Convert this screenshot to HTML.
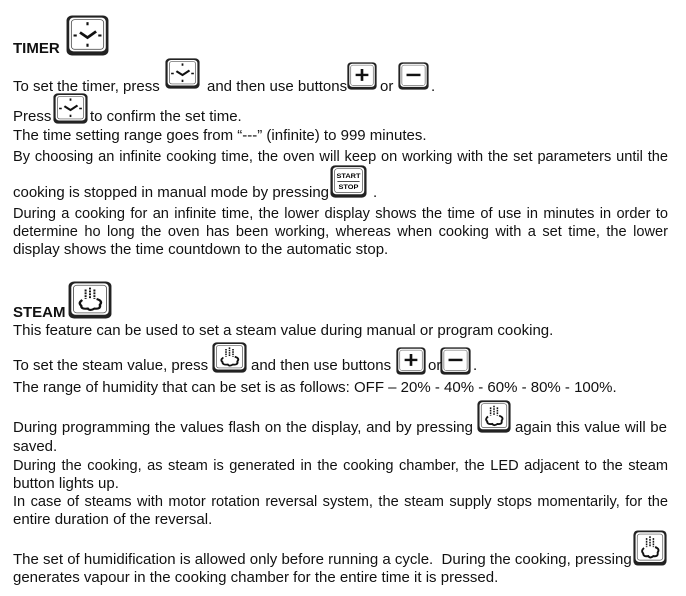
<!DOCTYPE html>
<html><head><meta charset="utf-8"><style>
body{margin:0;background:#fff;width:686px;height:596px;position:relative;overflow:hidden;font-family:"Liberation Sans",Arial,sans-serif;color:#111}
.l{position:absolute;left:13px;width:654px;font-size:15px;line-height:16px;white-space:nowrap}
.j{text-align:justify;text-align-last:justify;white-space:normal;font-size:14.6px;width:655px}
.t{position:absolute;font-size:15px;line-height:16px;white-space:nowrap}
.b{font-weight:bold}
svg{position:absolute}
</style></head><body>
<svg width="0" height="0" style="position:absolute">
<defs>
<g id="frame"><rect x="0.5" y="0.5" width="39" height="39" rx="5" fill="#222"/><rect x="3" y="2.5" width="34" height="33" rx="4" fill="#fff"/><rect x="5" y="4.5" width="30" height="29" rx="3" fill="none" stroke="#555" stroke-width="0.8"/></g>
<g id="clock"><use href="#frame"/><rect x="19" y="7" width="2" height="3" fill="#111"/><rect x="19" y="28" width="2" height="3" fill="#111"/><rect x="7" y="19" width="3" height="2" fill="#111"/><rect x="30" y="19" width="3" height="2" fill="#111"/><path d="M13 17 L20 22 L28 16" stroke="#111" stroke-width="2.6" fill="none" stroke-linejoin="miter"/></g>
<g id="steam"><use href="#frame"/><path d="M13 20 q-4 3 -1 6 q0 4 6 3 q2 3 6 0 q6 1 5 -4 q3 -4 -3 -6" stroke="#111" stroke-width="2.2" fill="none"/><path d="M16 9v10M20 7v12M24 9v10" stroke="#111" stroke-width="1.8" stroke-dasharray="2 1"/></g>
<g id="plus"><use href="#frame"/><path d="M20 10v17M11.5 18.5h17" stroke="#111" stroke-width="3.5"/></g>
<g id="minus"><use href="#frame"/><path d="M11 18.5h18" stroke="#111" stroke-width="3.5"/></g>
</defs></svg>

<div class="t b" style="left:13px;top:41px">TIMER</div>
<svg style="left:66px;top:15px" width="43" height="41" viewBox="0 0 40 40" preserveAspectRatio="none"><use href="#clock"/></svg>

<div class="t" style="left:13px;top:79px">To set the timer, press</div>
<svg style="left:165px;top:58px" width="35" height="31" viewBox="0 0 40 40" preserveAspectRatio="none"><use href="#clock"/></svg>
<div class="t" style="left:207px;top:79px">and then use buttons</div>
<svg style="left:347px;top:62px" width="30" height="28" viewBox="0 0 40 40" preserveAspectRatio="none"><use href="#plus"/></svg>
<div class="t" style="left:380px;top:79px">or</div>
<svg style="left:398px;top:62px" width="31" height="28" viewBox="0 0 40 40" preserveAspectRatio="none"><use href="#minus"/></svg>
<div class="t" style="left:431px;top:79px">.</div>

<div class="t" style="left:13px;top:109px">Press</div>
<svg style="left:53px;top:93px" width="35" height="31" viewBox="0 0 40 40" preserveAspectRatio="none"><use href="#clock"/></svg>
<div class="t" style="left:90px;top:109px">to confirm the set time.</div>

<div class="l" style="top:128px">The time setting range goes from “---” (infinite) to 999 minutes.</div>
<div class="l j" style="top:149px">By choosing an infinite cooking time, the oven will keep on working with the set parameters until the</div>
<div class="t" style="left:13px;top:185px">cooking is stopped in manual mode by pressing</div>
<svg style="left:330px;top:165px" width="37" height="33" viewBox="0 0 40 40" preserveAspectRatio="none"><use href="#frame"/><line x1="8" y1="20" x2="32" y2="20" stroke="#111" stroke-width="1"/><text x="20" y="16" font-size="8" font-weight="bold" text-anchor="middle" font-family="Liberation Sans,sans-serif">START</text><text x="20" y="29" font-size="8" font-weight="bold" text-anchor="middle" font-family="Liberation Sans,sans-serif">STOP</text></svg>
<div class="t" style="left:373px;top:185px">.</div>
<div class="l j" style="top:206px">During a cooking for an infinite time, the lower display shows the time of use in minutes in order to</div>
<div class="l j" style="top:224px">determine ho long the oven has been working, whereas when cooking with a set time, the lower</div>
<div class="l" style="top:242px">display shows the time countdown to the automatic stop.</div>

<div class="t b" style="left:13px;top:305px">STEAM</div>
<svg style="left:68px;top:281px" width="44" height="38" viewBox="0 0 40 40" preserveAspectRatio="none"><use href="#steam"/></svg>
<div class="l" style="top:323px">This feature can be used to set a steam value during manual or program cooking.</div>

<div class="t" style="left:13px;top:358px">To set the steam value, press</div>
<svg style="left:212px;top:342px" width="35" height="31" viewBox="0 0 40 40" preserveAspectRatio="none"><use href="#steam"/></svg>
<div class="t" style="left:251px;top:358px">and then use buttons</div>
<svg style="left:396px;top:347px" width="30" height="28" viewBox="0 0 40 40" preserveAspectRatio="none"><use href="#plus"/></svg>
<div class="t" style="left:428px;top:358px">or</div>
<svg style="left:440px;top:347px" width="31" height="28" viewBox="0 0 40 40" preserveAspectRatio="none"><use href="#minus"/></svg>
<div class="t" style="left:473px;top:358px">.</div>
<div class="l" style="top:380px">The range of humidity that can be set is as follows: OFF – 20% - 40% - 60% - 80% - 100%.</div>

<div class="t" style="left:13px;top:420px;width:460px;text-align:justify;text-align-last:justify;white-space:normal">During programming the values flash on the display, and by pressing</div>
<svg style="left:477px;top:400px" width="34" height="33" viewBox="0 0 40 40" preserveAspectRatio="none"><use href="#steam"/></svg>
<div class="t" style="left:515px;top:420px;width:152px;text-align:justify;text-align-last:justify;white-space:normal">again this value will be</div>
<div class="l" style="top:439px">saved.</div>
<div class="l j" style="top:458px">During the cooking, as steam is generated in the cooking chamber, the LED adjacent to the steam</div>
<div class="l" style="top:476px">button lights up.</div>
<div class="l j" style="top:494px">In case of steams with motor rotation reversal system, the steam supply stops momentarily, for the</div>
<div class="l" style="top:512px">entire duration of the reversal.</div>

<div class="t" style="left:13px;top:552px">The set of humidification is allowed only before running a cycle.&nbsp; During the cooking, pressing</div>
<svg style="left:633px;top:530px" width="34" height="36" viewBox="0 0 40 40" preserveAspectRatio="none"><use href="#steam"/></svg>
<div class="l" style="top:570px">generates vapour in the cooking chamber for the entire time it is pressed.</div>
</body></html>
